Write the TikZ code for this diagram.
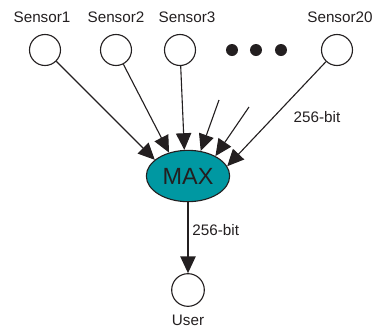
\documentclass[tikz,border=0pt]{standalone}
\usepackage{fontspec}
\setmainfont{Liberation Sans}
\usetikzlibrary{arrows.meta,shapes.geometric}
\definecolor{maxteal}{RGB}{0,152,162}
\definecolor{inkgray}{RGB}{35,31,32}

\begin{document}
\begin{tikzpicture}[
  x=0.03cm, y=-0.03cm,
  sensor/.style={circle, draw=inkgray, line width=0.95pt, minimum size=0.93cm, inner sep=0pt},
  dotnode/.style={circle, fill=inkgray, minimum size=0.36cm, inner sep=0pt},
  hub/.style={ellipse, draw=inkgray, line width=0.95pt, fill=maxteal, minimum width=2.5cm, minimum height=1.54cm, inner sep=0pt, font=\fontsize{20}{24}\selectfont},
  feed/.style={draw=inkgray, line width=0.95pt, -{Triangle[length=0.5cm,width=0.46cm]}},
  font=\fontsize{13}{15}\selectfont,
  text=inkgray
]
\useasboundingbox (0,0) rectangle (380,331);

% Sensors
\node[sensor] (s1) at (45,50) {};
\node[sensor] (s2) at (116,50) {};
\node[sensor] (s3) at (180,50) {};
\node[sensor] (s20) at (337,50) {};
\node (s1lab) at (42,17) {Sensor1};
\node (s2lab) at (116,17) {Sensor2};
\node (s3lab) at (187,17) {Sensor3};
\node (s20lab) at (340,17) {Sensor20};

% Dots
\foreach \x [count=\i] in {232,256,281}
  \node[dotnode] (dot\i) at (\x,50) {};

% MAX
\node[hub] (max) at (188,176) {MAX};

% Free arrow ends
\coordinate (extra1) at (219,100);
\coordinate (extra2) at (249,107);

% Arrows
\draw[feed] (s1) -- (max.154);
\draw[feed] (s2) -- (max.129);
\draw[feed] (s3) -- (max.98);
\draw[feed] (extra1) -- (max.63);
\draw[feed] (extra2) -- (max.36);
\draw[feed] (s20) -- (max.14);
\node (bitlab) at (317,117) {256-bit};

% User
\node[sensor, minimum size=0.98cm] (user) at (188,290) {};
\node (userlab) at (188,320) {User};
\draw[feed] (max) -- node[right, pos=0.39] {256-bit} (user);

\end{tikzpicture}
\end{document}
